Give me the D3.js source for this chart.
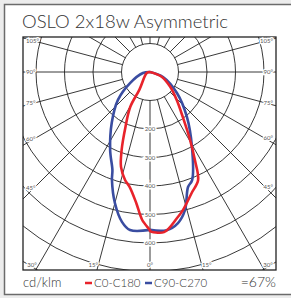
<!DOCTYPE html>
<html>
<head>
<meta charset="utf-8">
<script src="https://cdn.jsdelivr.net/npm/d3@7"></script>
<style>
  html, body { margin: 0; padding: 0; background: #ececec; }
  svg { display: block; }
</style>
</head>
<body>
<div id="chart"></div>
<script>
// chart text
const titleText = "OSLO 2x18w Asymmetric";
const unitText = "cd/klm";
const efficiencyText = "=67%";

// grid: rings (cd/klm) and rays (gamma degrees)
const ringValues = [100, 200, 300, 400, 500, 600, 700, 800, 900, 1000];
const ringLabels = [200, 300, 400, 500, 600];
const rayAngles = [0, 15, 30, 45, 60, 75, 90, 105, 120, 135, 150, 165, 180];
const rayLabels = [0, 15, 30, 45, 60, 75, 90, 105];

// traced intensity curves, [gamma in degrees, cd/klm], from top (90) to nadir (0)
const c180Gamma = [90, 73, 31, 29.5, 24, 20, 17, 13, 10, 6, 3, 0];
const c180Cd    = [0, 12, 72, 141, 212, 291, 348, 389, 410, 462, 520, 556];
const c0Gamma   = [0, 5, 10.5, 13.4, 19, 24, 27, 30.5, 36, 43.6, 54, 68, 90];
const c0Cd      = [558, 564, 521, 498, 449, 415, 347, 277, 196, 136, 87, 44, 0];
const c270Gamma = [90, 82, 61, 49, 37, 27, 21, 19.4, 15, 10.6, 7.2, 0];
const c270Cd    = [0, 25, 80, 149, 223, 308, 368, 402, 476, 535, 559, 554];
const c90Gamma  = [0, 6, 10.5, 14.2, 18.3, 21.3, 29.2, 39.4, 52, 69, 90];
const c90Cd     = [554, 558, 539, 500, 425, 407, 302, 204, 120, 49, 0];

const seriesNames = ["C0-C180", "C90-C270"];
const seriesColors = ["#e8232b", "#3a4da1"];

const W = 291, H = 298;
const frame = {x0: 23, y0: 37, x1: 276, y1: 270};
const cx = 150, cy = 72;
const rad = Math.PI / 180;

const r = d3.scaleLinear().domain([0, 100]).range([0, 28.5]);

const svg = d3.select("#chart").append("svg")
    .attr("width", W)
    .attr("height", H)
    .style("font-family", "Lato, 'Open Sans', sans-serif");

// white panel
svg.append("rect")
    .attr("x", 4.5).attr("y", 4.5)
    .attr("width", 300).attr("height", 290)
    .attr("fill", "#fff")
    .attr("stroke", "#6b6b6b")
    .attr("stroke-width", 1.5);

svg.append("text")
    .attr("x", 22).attr("y", 28)
    .attr("font-size", 18.5)
    .attr("font-weight", 300)
    .attr("fill", "#333")
    .text(titleText);

svg.append("clipPath").attr("id", "clip")
    .append("rect")
    .attr("x", frame.x0).attr("y", frame.y0)
    .attr("width", frame.x1 - frame.x0).attr("height", frame.y1 - frame.y0);

const plot = svg.append("g").attr("clip-path", "url(#clip)");
const g = plot.append("g").attr("transform", `translate(${cx},${cy})`);

// rings
g.append("g")
    .selectAll("circle")
    .data(ringValues)
    .join("circle")
    .attr("r", d => r(d))
    .attr("fill", "none")
    .attr("stroke", "#222")
    .attr("stroke-width", 0.9);

// rays, both sides
const rays = rayAngles.flatMap(a => a === 0 || a === 180 ? [[a, 1]] : [[a, 1], [a, -1]]);
g.append("g")
    .selectAll("line")
    .data(rays)
    .join("line")
    .attr("x1", d => d[1] * Math.sin(d[0] * rad) * r(100))
    .attr("y1", d => Math.cos(d[0] * rad) * r(100))
    .attr("x2", d => d[1] * Math.sin(d[0] * rad) * 400)
    .attr("y2", d => Math.cos(d[0] * rad) * 400)
    .attr("stroke", "#222")
    .attr("stroke-width", 0.9);

// ring labels along the nadir
g.append("g")
    .selectAll("text")
    .data(ringLabels)
    .join("text")
    .attr("x", 0)
    .attr("y", d => r(d) + 2)
    .attr("text-anchor", "middle")
    .attr("font-size", 6)
    .attr("fill", "#555")
    .attr("stroke", "#fff")
    .attr("stroke-width", 3)
    .attr("paint-order", "stroke")
    .text(d => d);

// intensity curves
const line = d3.lineRadial()
    .curve(d3.curveCatmullRom.alpha(0.5))
    .angle(d => d[2] > 0 ? Math.PI - d[0] * rad : Math.PI + d[0] * rad)
    .radius(d => r(d[1]));

function half(gammas, values, side) {
    return gammas.map((a, i) => [a, values[i], side]);
}
const curves = [
    half(c270Gamma, c270Cd, -1).concat(half(c90Gamma, c90Cd, 1)),
    half(c180Gamma, c180Cd, -1).concat(half(c0Gamma, c0Cd, 1))
];
const curveColors = [seriesColors[1], seriesColors[0]];

g.append("g")
    .selectAll("path")
    .data(curves)
    .join("path")
    .attr("d", d => line(d))
    .attr("fill", "none")
    .attr("stroke", (d, i) => curveColors[i])
    .attr("stroke-width", 2.6)
    .attr("stroke-linejoin", "round");

// frame
svg.append("rect")
    .attr("x", frame.x0).attr("y", frame.y0)
    .attr("width", frame.x1 - frame.x0).attr("height", frame.y1 - frame.y0)
    .attr("fill", "none")
    .attr("stroke", "#222")
    .attr("stroke-width", 1.3);

// gamma labels where the rays meet the frame
function hit(a, side) {
    const dx = side * Math.sin(a * rad), dy = Math.cos(a * rad);
    let t = Infinity, edge = null;
    if (dx > 1e-9) { const tt = (frame.x1 - cx) / dx; if (tt < t) { t = tt; edge = "side"; } }
    if (dx < -1e-9) { const tt = (frame.x0 - cx) / dx; if (tt < t) { t = tt; edge = "side"; } }
    if (dy > 1e-9) { const tt = (frame.y1 - cy) / dy; if (tt < t) { t = tt; edge = "bottom"; } }
    return {x: cx + dx * t, y: cy + dy * t, edge};
}

const labelData = rayLabels.flatMap(a => a === 0 ? [[a, 1]] : [[a, -1], [a, 1]]).map(([a, side]) => {
    const h = hit(a, side);
    let x, y, anchor;
    if (h.edge === "side") {
        x = side < 0 ? frame.x0 + 3 : frame.x1 - 3;
        y = cy + (h.y - cy) * 0.91 + 2;
        anchor = side < 0 ? "start" : "end";
    } else {
        y = frame.y1 - 3;
        if (a === 0) { x = h.x; anchor = "middle"; }
        else { x = h.x - side * 1; anchor = side < 0 ? "end" : "start"; }
    }
    return {a, x, y, anchor};
});

svg.append("g")
    .selectAll("text")
    .data(labelData)
    .join("text")
    .attr("x", d => d.x)
    .attr("y", d => d.y)
    .attr("text-anchor", d => d.anchor)
    .attr("font-size", 6)
    .attr("fill", "#555")
    .attr("stroke", "#fff")
    .attr("stroke-width", 2.5)
    .attr("paint-order", "stroke")
    .text(d => d.a + "°");

// footer: unit, legend, efficiency
svg.append("text")
    .attr("x", 23).attr("y", 287)
    .attr("font-size", 13)
    .attr("font-weight", 300)
    .attr("fill", "#333")
    .text(unitText);

const legendX = [85, 145];
const legend = svg.append("g")
    .selectAll("g")
    .data(seriesNames)
    .join("g")
    .attr("transform", (d, i) => `translate(${legendX[i]},283)`);
legend.append("line")
    .attr("x1", 0).attr("x2", 7)
    .attr("stroke", (d, i) => seriesColors[i])
    .attr("stroke-width", 2.5);
legend.append("text")
    .attr("x", 9).attr("y", 4)
    .attr("font-size", 11.5)
    .attr("font-weight", 300)
    .attr("fill", "#333")
    .text(d => d);

svg.append("text")
    .attr("x", 276).attr("y", 287)
    .attr("text-anchor", "end")
    .attr("font-size", 14)
    .attr("font-weight", 300)
    .attr("fill", "#333")
    .text(efficiencyText);
</script>
</body>
</html>
